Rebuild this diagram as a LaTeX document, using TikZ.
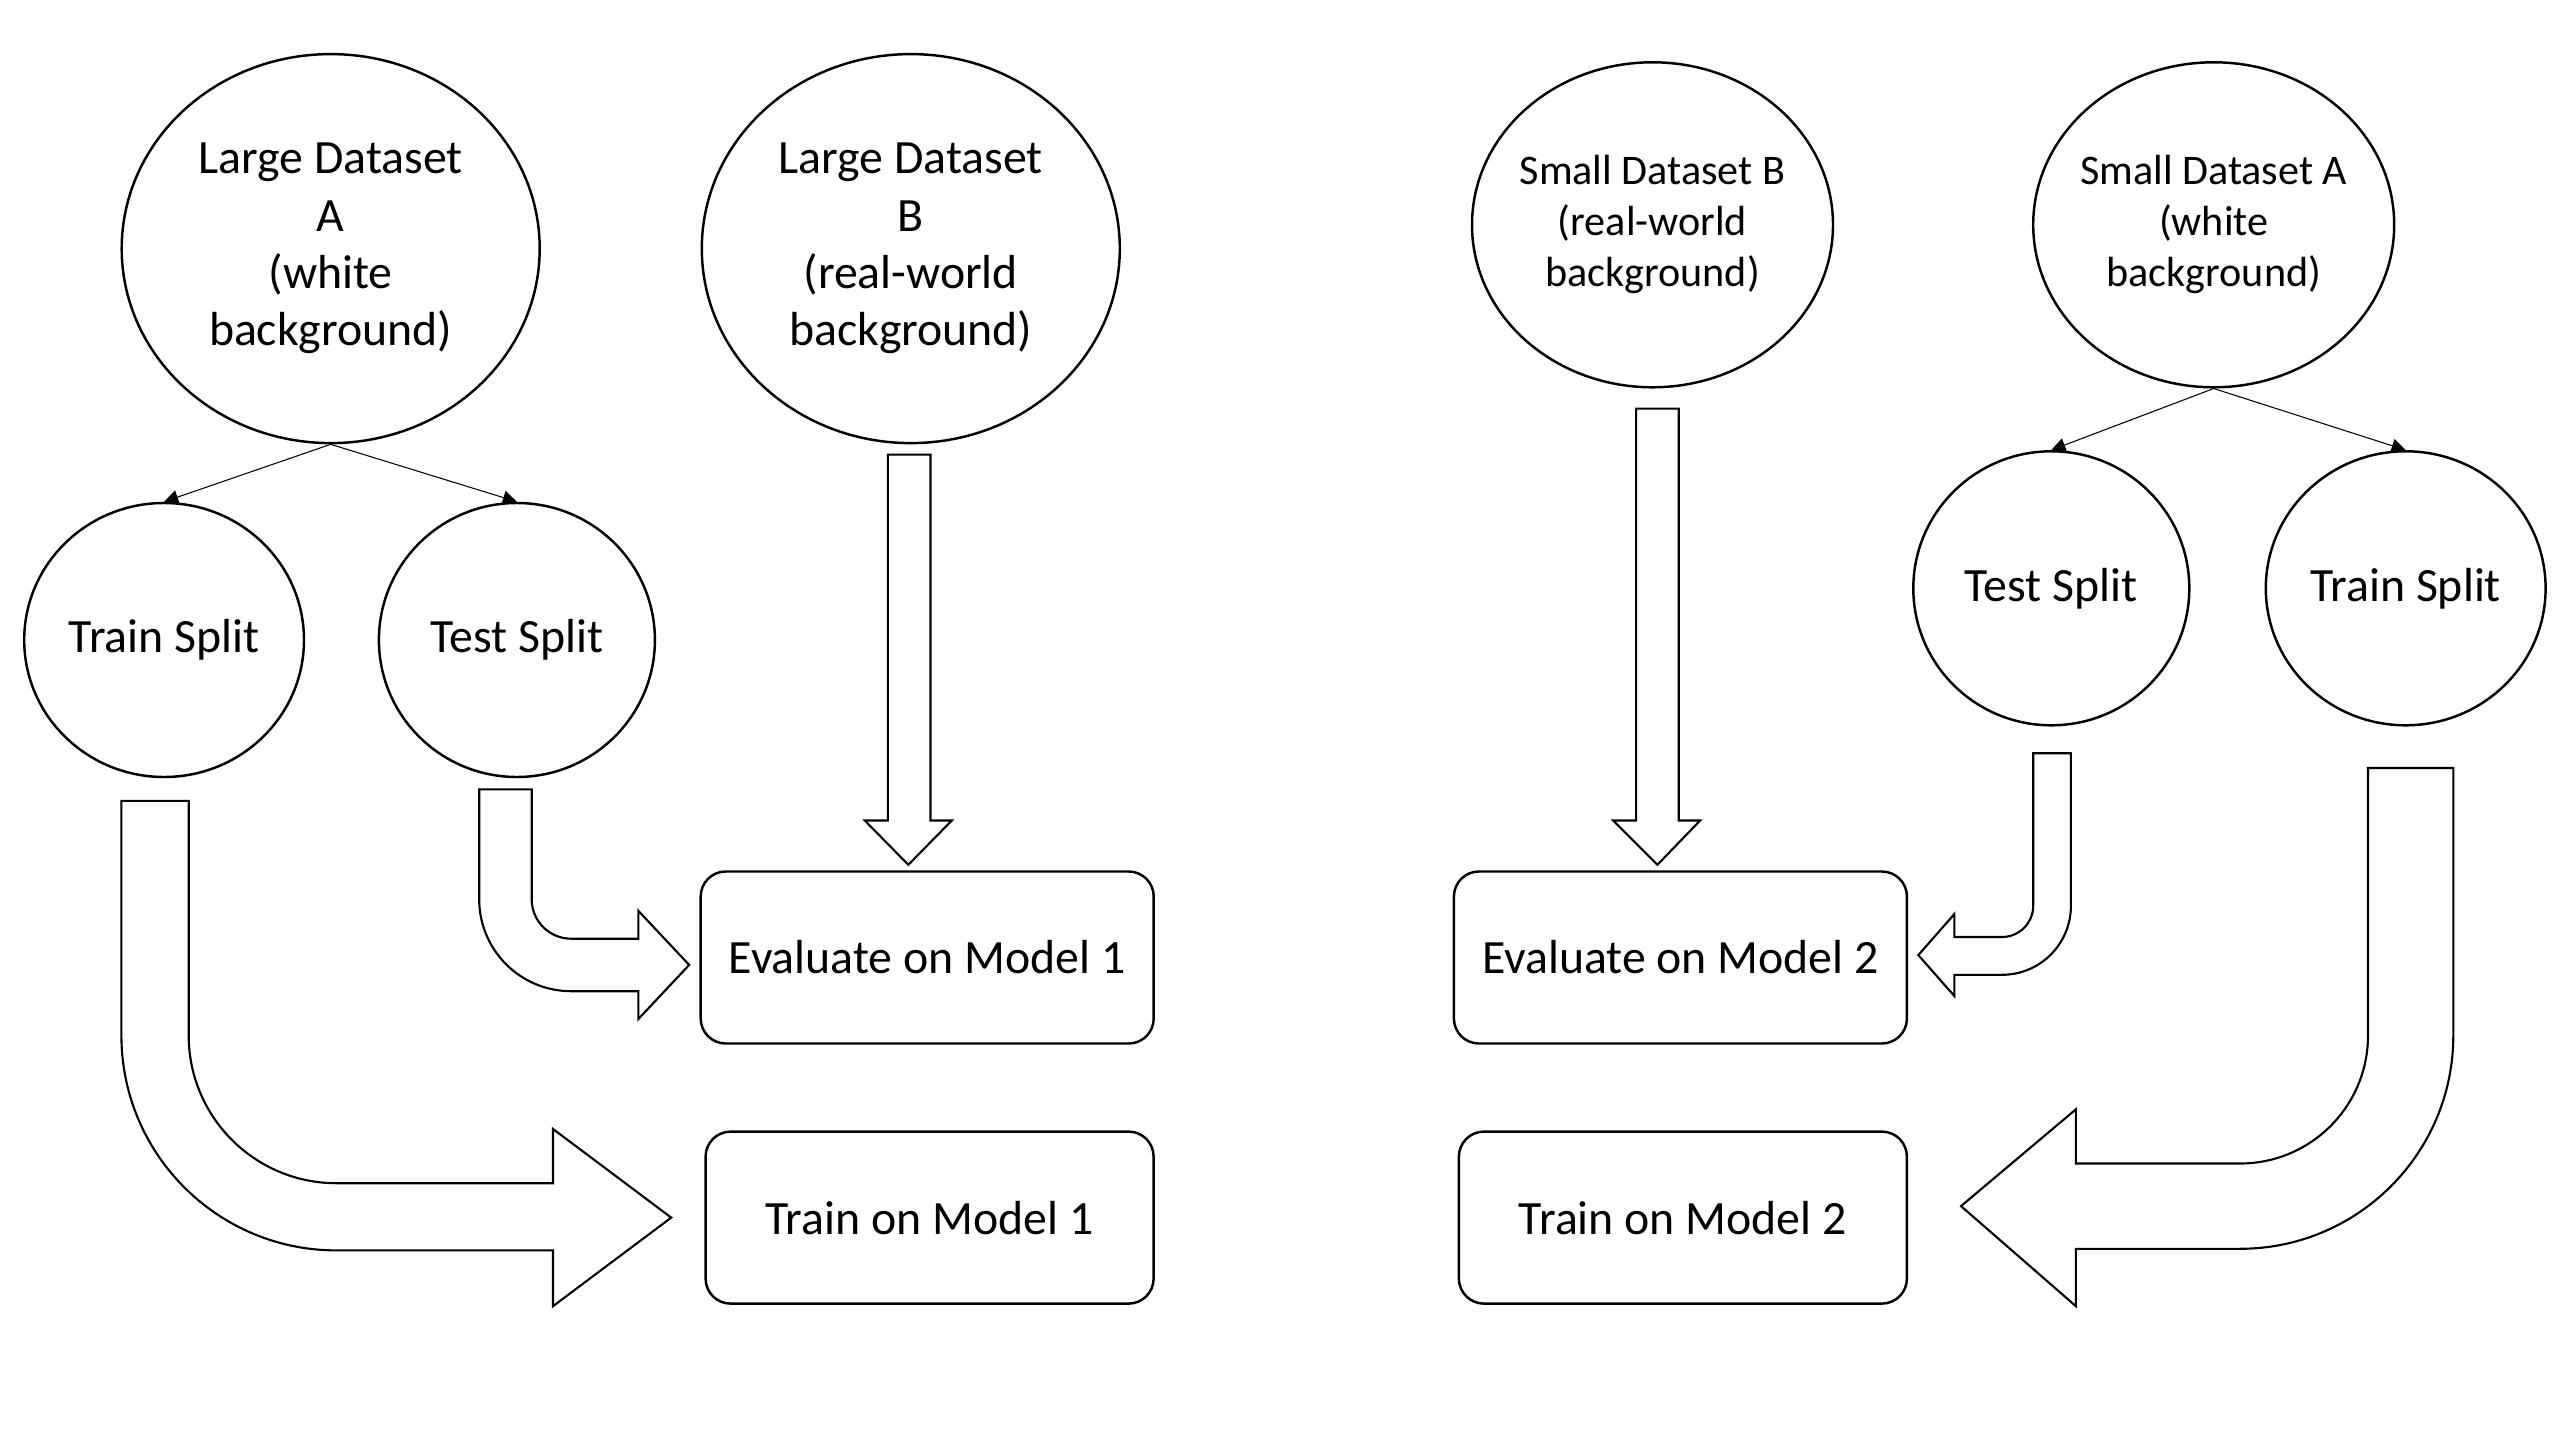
\documentclass[tikz,border=0pt]{standalone}
\usepackage{fontspec}
\setmainfont{Carlito}
\usetikzlibrary{arrows.meta,shapes.geometric,positioning}

\tikzset{
  blockarrow/.style={draw,fill=white,line width=0.6pt,line join=miter},
  split/.style={-{Triangle[length=4pt,width=4pt]},line width=0.3pt}
}

\begin{document}
\begin{tikzpicture}[line width=0.7pt]
\useasboundingbox (0,0) rectangle (25.6,-14.32);
			\begin{scope}[every node/.style={ellipse,draw,align=center,inner sep=1pt,font=\fontsize{13.6}{16.3}\selectfont}]
    \node[minimum width=4.18cm,minimum height=3.89cm] (LA) at (3.307,-2.486) {Large Dataset\\A\\(white\\background)};
    \node[minimum width=4.18cm,minimum height=3.89cm] (LB) at (9.108,-2.486) {Large Dataset\\B\\(real-world\\background)};
    \node[minimum width=2.76cm,minimum height=2.74cm] (TrL) at (1.641,-6.40) {Train Split};
    \node[minimum width=2.76cm,minimum height=2.74cm] (TeL) at (5.169,-6.40) {Test Split};
    \node[minimum width=2.76cm,minimum height=2.74cm] (TeR) at (20.513,-5.883) {Test Split};
    \node[minimum width=2.76cm,minimum height=2.74cm] (TrR) at (24.057,-5.883) {Train Split};
			\end{scope}
			\begin{scope}[every node/.style={ellipse,draw,align=center,inner xsep=-0.3cm,inner ysep=1pt,
              minimum width=3.61cm,minimum height=3.25cm,font=\fontsize{12}{14.5}\selectfont}]
    \node (SB) at (16.525,-2.248) {Small Dataset B\\(real-world\\background)};
    \node (SA) at (22.137,-2.248) {Small Dataset A\\(white\\background)};
			\end{scope}
			\begin{scope}[every node/.style={rectangle,draw,rounded corners=0.25cm,minimum height=1.72cm,
              font=\fontsize{13.6}{16.3}\selectfont}]
    \node[minimum width=4.53cm] (EvA) at (9.272,-9.575) {Evaluate on Model 1};
    \node[minimum width=4.48cm] (TmA) at (9.296,-12.176) {Train on Model 1};
    \node[minimum width=4.53cm] (EvB) at (16.804,-9.575) {Evaluate on Model 2};
    \node[minimum width=4.48cm] (TmB) at (16.829,-12.176) {Train on Model 2};
			\end{scope}
    \draw[split] (LA.south) -- (TrL.north);
    \draw[split] (LA.south) -- (TeL.north);
    \draw[split] (SA.south) -- (TeR.north);
    \draw[split] (SA.south) -- (TrR.north);
    % block arrows
    \draw[blockarrow] (8.878,-4.546) -- (9.305,-4.546) -- (9.305,-8.205) -- (9.518,-8.205) -- (9.083,-8.648) -- (8.648,-8.205) -- (8.878,-8.205) -- cycle;
    \draw[blockarrow] (16.361,-4.086) -- (16.787,-4.086) -- (16.787,-8.205) -- (17.001,-8.205) -- (16.574,-8.648) -- (16.131,-8.205) -- (16.361,-8.205) -- cycle;
    \draw[blockarrow] (4.792,-7.893) -- (5.317,-7.893) -- (5.317,-8.993) arc[start angle=180,end angle=270,radius=0.394] -- (6.383,-9.387) -- (6.383,-9.108) -- (6.892,-9.649) -- (6.383,-10.191) -- (6.383,-9.912) -- (5.711,-9.912) arc[start angle=270,end angle=180,radius=0.919] -- cycle;
    \draw[blockarrow] (1.214,-8.008) -- (1.887,-8.008) -- (1.887,-10.355) arc[start angle=180,end angle=270,radius=1.477] -- (5.530,-11.832) -- (5.530,-11.290) -- (6.712,-12.176) -- (5.530,-13.062) -- (5.530,-12.504) -- (3.364,-12.504) arc[start angle=270,end angle=180,radius=2.150] -- cycle;
    \draw[blockarrow] (24.533,-7.680) -- (23.680,-7.680) -- (23.680,-10.355) arc[start angle=0,end angle=-90,radius=1.280] -- (20.759,-11.635) -- (20.759,-11.093) -- (19.610,-12.061) -- (20.759,-13.062) -- (20.759,-12.488) -- (22.400,-12.488) arc[start angle=-90,end angle=0,radius=2.133] -- cycle;
    \draw[blockarrow] (20.709,-7.532) -- (20.332,-7.532) -- (20.332,-9.058) arc[start angle=0,end angle=-90,radius=0.312] -- (19.544,-9.370) -- (19.544,-9.140) -- (19.183,-9.551) -- (19.544,-9.961) -- (19.544,-9.748) -- (20.020,-9.748) arc[start angle=-90,end angle=0,radius=0.689] -- cycle;
		\end{tikzpicture}
\end{document}
